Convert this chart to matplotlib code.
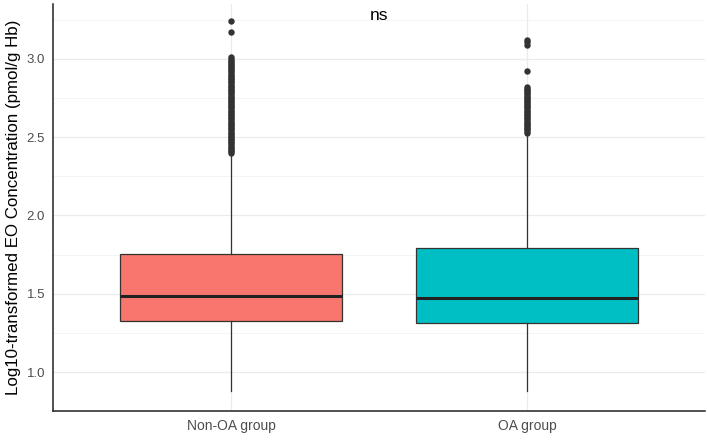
import numpy as np
import matplotlib.pyplot as plt
from matplotlib.ticker import MultipleLocator

plt.rcParams['font.family'] = ['Liberation Sans', 'DejaVu Sans']

# groups and box statistics
groups = ['Non-OA group', 'OA group']
colors = ['#F8766D', '#00BFC4']
q1 = [1.326, 1.313]
median = [1.486, 1.473]
q3 = [1.757, 1.790]
whisker_low = [0.878, 0.878]
whisker_high = [2.39, 2.52]

# outliers (dense runs read as roughly evenly packed points)
outliers_non_oa = [2.40, 2.41, 2.42, 2.43, 2.44, 2.45, 2.46, 2.47, 2.48, 2.49,
                   2.50, 2.51, 2.52, 2.53, 2.54, 2.55, 2.56, 2.57, 2.58, 2.59,
                   2.60, 2.61, 2.62, 2.63, 2.64, 2.65, 2.66, 2.67, 2.68, 2.69,
                   2.70, 2.71, 2.72, 2.73, 2.74, 2.75, 2.76, 2.77, 2.78, 2.79,
                   2.80, 2.81, 2.82, 2.83, 2.84, 2.85, 2.86, 2.87, 2.88, 2.89,
                   2.90, 2.91, 2.92, 2.93, 2.94, 2.95, 2.96, 2.97, 2.98, 2.99,
                   3.00, 3.01, 3.17, 3.24]
outliers_oa = [2.53, 2.54, 2.55, 2.56, 2.57, 2.58, 2.59, 2.60, 2.61, 2.62,
               2.63, 2.64, 2.65, 2.66, 2.67, 2.68, 2.69, 2.70, 2.71, 2.72,
               2.73, 2.74, 2.75, 2.76, 2.77, 2.78, 2.79, 2.80, 2.81, 2.82,
               2.92, 3.09, 3.11, 3.12]
outliers = [outliers_non_oa, outliers_oa]

sig_label = 'ns'

fig = plt.figure(figsize=(7.08, 4.40), dpi=100)
ax = fig.add_axes([0.0754, 0.0659, 0.9198, 0.925])

stats = []
for i in range(len(groups)):
    stats.append({'med': median[i], 'q1': q1[i], 'q3': q3[i],
                  'whislo': whisker_low[i], 'whishi': whisker_high[i],
                  'fliers': outliers[i], 'label': groups[i]})

pos = np.arange(1, len(groups) + 1)
bp = ax.bxp(stats, positions=pos, widths=0.75, patch_artist=True,
            showcaps=False,
            boxprops=dict(edgecolor='#333333', linewidth=0.9),
            medianprops=dict(color='#222222', linewidth=2.2),
            whiskerprops=dict(color='#333333', linewidth=0.9),
            flierprops=dict(marker='o', markerfacecolor='#333333',
                            markeredgecolor='none', markersize=4.6))
for patch, c in zip(bp['boxes'], colors):
    patch.set_facecolor(c)
for art in bp['boxes'] + bp['medians'] + bp['whiskers'] + bp['fliers']:
    art.set_zorder(3)

ax.text(pos.mean(), 3.275, sig_label, ha='center', va='center', fontsize=12.5, color='black')

ax.set_xlim(0.4, 2.6)
ax.set_ylim(0.751, 3.351)
ax.yaxis.set_major_locator(MultipleLocator(0.5))
ax.yaxis.set_minor_locator(MultipleLocator(0.25))
ax.set_yticks([1.0, 1.5, 2.0, 2.5, 3.0])
ax.set_yticklabels(['1.0', '1.5', '2.0', '2.5', '3.0'])

ax.grid(True, which='major', color='#EBEBEB', linewidth=0.9, zorder=0)
ax.grid(True, which='minor', axis='y', color='#F3F3F3', linewidth=0.6, zorder=0)
ax.set_axisbelow(True)

ax.tick_params(axis='both', which='both', length=0, labelcolor='#4D4D4D')
ax.tick_params(axis='y', labelsize=9.5, pad=6)
ax.tick_params(axis='x', labelsize=10, pad=6)

ax.set_ylabel('Log10-transformed EO Concentration (pmol/g Hb)', fontsize=12.2, labelpad=4)

for side in ['top', 'right']:
    ax.spines[side].set_visible(False)
for side in ['left', 'bottom']:
    ax.spines[side].set_color('#222222')
    ax.spines[side].set_linewidth(1.1)

fig.savefig('out.png', dpi=100)
